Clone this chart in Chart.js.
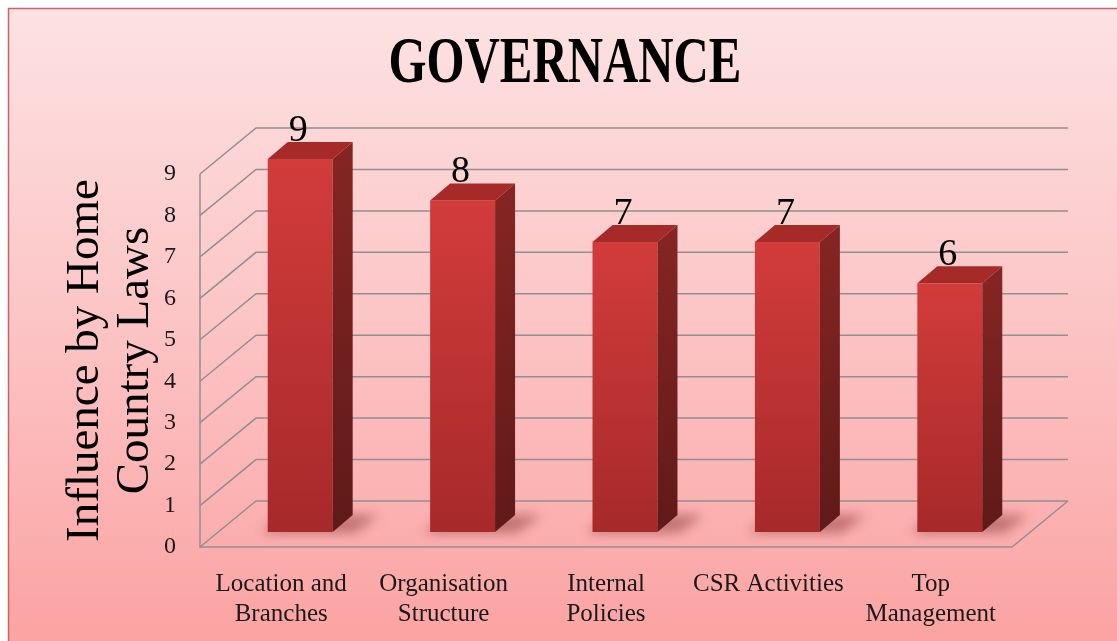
<!DOCTYPE html>
<html>
<head>
<meta charset="utf-8">
<script src="https://cdn.jsdelivr.net/npm/chart.js@4"></script>
<style>
  body { margin: 0; background: #ffffff; }
  canvas { display: block; }
</style>
</head>
<body>
<canvas id="chart" width="1117" height="641"></canvas>
<script>
// --- Data ---
const chartTitle = 'GOVERNANCE';
const categories = [
    ['Location and', 'Branches'],
    ['Organisation', 'Structure'],
    ['Internal', 'Policies'],
    ['CSR Activities'],
    ['Top', 'Management']
];
const values = [9, 8, 7, 7, 6];
const yMin = 0;
const yMax = 9;
const yStep = 1;
const yTitle = ['Influence by Home', 'Country Laws'];

// --- 3D look ---
const WALL_DX = 56, WALL_DY = -46;   // depth of the walls
const BAR_SHIFT_X = 19, BAR_SHIFT_Y = -15; // bars sit a bit behind the front edge
const BAR_DX = 20, BAR_DY = -17;     // depth of each bar
const SERIF = "'Liberation Serif', 'DejaVu Serif', serif";

// Fondo, paredes, sombras y cajas 3D
const fake3d = {
    id: 'fake3d',
    beforeDraw(chart) {
        const { ctx, width, height } = chart;
        ctx.save();
        ctx.fillStyle = '#ffffff';
        ctx.fillRect(0, 0, width, height);
        const g = ctx.createLinearGradient(0, 8, 0, height);
        g.addColorStop(0, '#fde2e3');
        g.addColorStop(0.5, '#fcc4c5');
        g.addColorStop(1, '#fba3a3');
        ctx.fillStyle = g;
        ctx.fillRect(8, 8, width - 8, height - 8);
        ctx.strokeStyle = '#c86464';
        ctx.lineWidth = 1.5;
        ctx.beginPath();
        ctx.moveTo(8.5, height);
        ctx.lineTo(8.5, 8.5);
        ctx.lineTo(width, 8.5);
        ctx.stroke();

        // title, condensed
        ctx.fillStyle = '#000000';
        ctx.font = "bold 66px " + SERIF;
        ctx.textAlign = 'center';
        ctx.textBaseline = 'alphabetic';
        ctx.translate(565, 82);
        ctx.scale(0.74, 1);
        ctx.fillText(chartTitle, 0, 0);
        ctx.restore();
    },
    beforeDatasetsDraw(chart) {
        const { ctx, chartArea: a, scales: { y } } = chart;
        ctx.save();
        ctx.strokeStyle = '#909090';
        ctx.lineWidth = 1.5;
        y.ticks.forEach(t => {
            const py = y.getPixelForValue(t.value);
            ctx.beginPath();
            ctx.moveTo(a.left, py);
            ctx.lineTo(a.left + WALL_DX, py + WALL_DY);
            ctx.lineTo(a.right + WALL_DX, py + WALL_DY);
            ctx.stroke();
        });
        ctx.beginPath();
        ctx.moveTo(a.left, y.getPixelForValue(yMax));
        ctx.lineTo(a.left, a.bottom);
        ctx.lineTo(a.right, a.bottom);
        ctx.lineTo(a.right + WALL_DX, a.bottom + WALL_DY);
        ctx.stroke();

        // soft shadows on the floor
        const meta = chart.getDatasetMeta(0);
        ctx.filter = 'blur(6px)';
        ctx.fillStyle = 'rgba(110, 20, 20, 0.4)';
        meta.data.forEach(el => {
            const p = el.getProps(['x', 'base', 'width'], true);
            const x0 = p.x - p.width / 2 + BAR_SHIFT_X;
            const x1 = p.x + p.width / 2 + BAR_SHIFT_X;
            const yb = p.base + BAR_SHIFT_Y;
            ctx.beginPath();
            ctx.moveTo(x0 - 6, yb + 1);
            ctx.lineTo(x1 + 22, yb + 1);
            ctx.lineTo(x1 + BAR_DX + 26, yb + BAR_DY);
            ctx.lineTo(x0 + BAR_DX - 6, yb + BAR_DY);
            ctx.closePath();
            ctx.fill();
        });
        ctx.filter = 'none';
        ctx.restore();
    },
    afterDatasetsDraw(chart) {
        const { ctx } = chart;
        const meta = chart.getDatasetMeta(0);
        ctx.save();
        meta.data.forEach((el, i) => {
            const p = el.getProps(['x', 'y', 'base', 'width'], true);
            const x0 = p.x - p.width / 2 + BAR_SHIFT_X;
            const x1 = p.x + p.width / 2 + BAR_SHIFT_X;
            const yt = p.y + BAR_SHIFT_Y;
            const yb = p.base + BAR_SHIFT_Y;

            // front
            let g = ctx.createLinearGradient(0, yt, 0, yb);
            g.addColorStop(0, '#d23c3b');
            g.addColorStop(1, '#a7292a');
            ctx.fillStyle = g;
            ctx.fillRect(x0, yt, x1 - x0, yb - yt);

            // side
            g = ctx.createLinearGradient(0, yt, 0, yb);
            g.addColorStop(0, '#842523');
            g.addColorStop(1, '#5f1a19');
            ctx.fillStyle = g;
            ctx.beginPath();
            ctx.moveTo(x1, yt);
            ctx.lineTo(x1 + BAR_DX, yt + BAR_DY);
            ctx.lineTo(x1 + BAR_DX, yb + BAR_DY);
            ctx.lineTo(x1, yb);
            ctx.closePath();
            ctx.fill();

            // top
            ctx.fillStyle = '#a52a28';
            ctx.beginPath();
            ctx.moveTo(x0, yt);
            ctx.lineTo(x0 + BAR_DX, yt + BAR_DY);
            ctx.lineTo(x1 + BAR_DX, yt + BAR_DY);
            ctx.lineTo(x1, yt);
            ctx.closePath();
            ctx.fill();

            // value label
            ctx.fillStyle = '#000000';
            ctx.font = "38px " + SERIF;
            ctx.textAlign = 'center';
            ctx.textBaseline = 'alphabetic';
            ctx.fillText(String(values[i]), (x0 + x1) / 2 - 2, yt + BAR_DY - 1);
        });
        ctx.restore();
    }
};

new Chart(document.getElementById('chart'), {
    type: 'bar',
    data: {
        labels: categories,
        datasets: [{
            data: values,
            backgroundColor: 'rgba(0,0,0,0)',
            borderWidth: 0,
            categoryPercentage: 1.0,
            barPercentage: 0.4
        }]
    },
    options: {
        responsive: false,
        devicePixelRatio: 1,
        animation: false,
        layout: { padding: { top: 174, right: 105, bottom: 0, left: 0 } },
        plugins: {
            legend: { display: false },
            tooltip: { enabled: false }
        },
        scales: {
            x: {
                grid: { display: false },
                border: { display: false },
                ticks: {
                    color: '#1a1a1a',
                    font: { family: SERIF, size: 25, lineHeight: 1.2 },
                    padding: 14,
                    maxRotation: 0,
                    autoSkip: false
                },
                afterFit: s => { s.height = 94; }
            },
            y: {
                min: yMin,
                max: yMax,
                grid: { display: false },
                border: { display: false },
                ticks: {
                    stepSize: yStep,
                    color: '#1a1a1a',
                    font: { family: SERIF, size: 24 },
                    padding: 16
                },
                title: {
                    display: true,
                    text: yTitle,
                    color: '#000000',
                    font: { family: SERIF, size: 47, lineHeight: 1.08 },
                    padding: { top: 60, bottom: 0 }
                },
                afterFit: s => { s.width = 200; }
            }
        }
    },
    plugins: [fake3d]
});
</script>
</body>
</html>
